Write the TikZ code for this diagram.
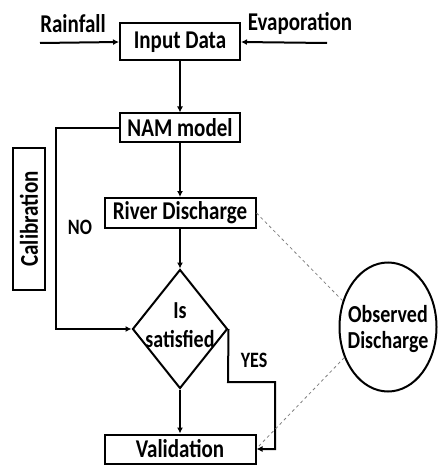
\documentclass[tikz,border=0pt]{standalone}
\usepackage{fontspec}
\usepackage{graphicx}
\setmainfont{Carlito}
\usetikzlibrary{shapes.geometric,arrows.meta}
\newcommand\stretchtxt[1]{\scalebox{1}[1.22]{#1}}
\begin{document}
\begin{tikzpicture}[x=1pt,y=-1pt,
  every node/.style={font=\bfseries\fontsize{21}{24}\selectfont},
  small/.style={font=\bfseries\fontsize{18}{20}\selectfont},
  mid/.style={font=\bfseries\fontsize{20}{22}\selectfont},
  boxn/.style={draw,line width=2pt,inner sep=0pt},
  conn/.style={line width=2pt,-{Latex[length=6pt,width=6pt]}},
  dashline/.style={dashed,gray,line width=0.8pt}]
\useasboundingbox (0,0) rectangle (439,465);
\node[boxn,minimum width=120pt,minimum height=37pt] (inp) at (180,42) {\stretchtxt{Input Data}};
\node (rain) at (73,24) {\stretchtxt{Rainfall}};
\node (evap) at (300,24) {\stretchtxt{Evaporation}};
\coordinate (rs) at (40,43);
\coordinate (es) at (327,43);
\draw[conn] (rs) -- (inp.west);
\draw[conn] (es) -- (inp.east);
\node[boxn,minimum width=120pt,minimum height=29pt] (nam) at (180,128) {\stretchtxt{NAM model}};
\draw[conn] (inp) -- (nam);
\node[boxn,minimum width=32pt,minimum height=142pt] (cal) at (29,219) {\rotatebox{90}{\stretchtxt{Calibration}}};
\node[small] (no) at (80,227) {\stretchtxt{NO}};
\node[boxn,minimum width=151pt,minimum height=30pt] (riv) at (180,213) {\stretchtxt{River Discharge}};
\draw[conn] (nam) -- (riv);
\node[diamond,draw,line width=2pt,minimum width=95pt,minimum height=119pt,inner sep=0pt] (dia) at (180,329) {};
\node[mid] (is) at (180,311) {\stretchtxt{Is}};
\node[mid] (sat) at (180,339) {\stretchtxt{satisfied}};
\draw[conn] (riv) -- (dia);
\coordinate (c1) at (56,128);
\coordinate (c2) at (56,329);
\draw[conn] (nam.west) -- (c1) -- (c2) -- (dia.west);
\node[boxn,minimum width=151pt,minimum height=29pt] (val) at (180,449) {\stretchtxt{Validation}};
\draw[conn] (dia) -- (val);
\node[small] (yes) at (254,360) {\stretchtxt{YES}};
\coordinate (y1) at (228,382);
\coordinate (y2) at (275,382);
\coordinate (y3) at (275,449);
\draw[conn] (dia.east) -- (y1) -- (y2) -- (y3) -- (val.east);
\node[ellipse,draw,line width=2pt,minimum width=97pt,minimum height=129pt,inner sep=0pt] (obs) at (388,327) {};
\node[mid] (obs1) at (388,314) {\stretchtxt{Observed}};
\node[mid] (obs2) at (388,342) {\stretchtxt{Discharge}};
\coordinate (vend) at (258,447);
\draw[dashline] (riv.east) -- (obs.150);
\draw[dashline] (obs.215) -- (vend);
\end{tikzpicture}
\end{document}
